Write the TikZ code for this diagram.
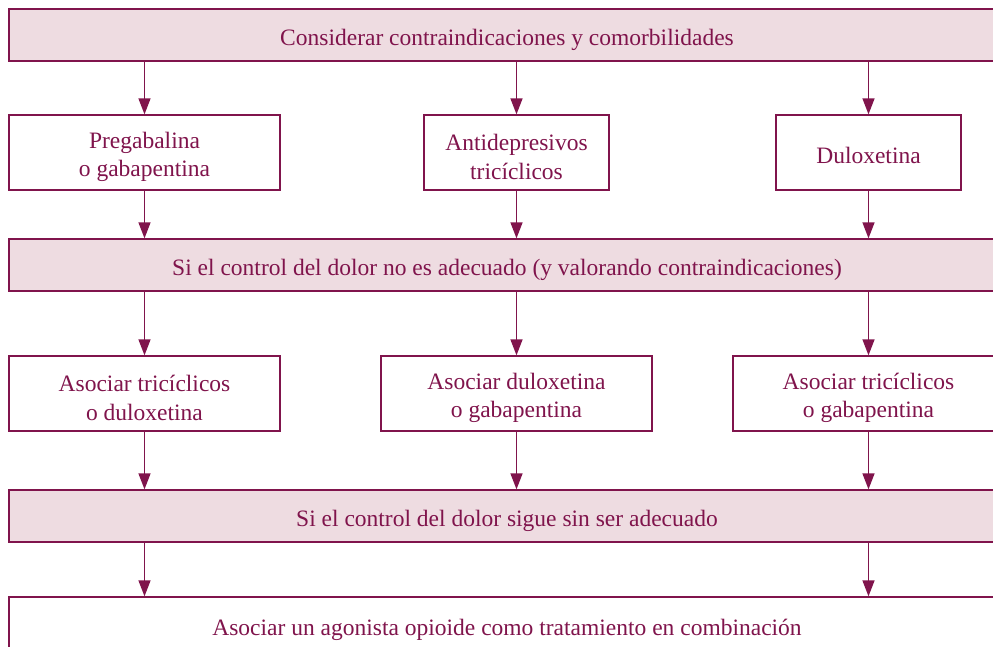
\documentclass[tikz,border=0pt]{standalone}
\usepackage{fontspec}
\setmainfont{Liberation Serif}
\usetikzlibrary{arrows.meta}
\definecolor{mar}{RGB}{128,20,76}
\definecolor{pink}{RGB}{238,220,225}
\tikzset{
  band/.style={draw=mar, line width=1.3pt, fill=pink, minimum width=996pt, minimum height=52pt, inner sep=0pt},
  box/.style={draw=mar, line width=1.3pt, fill=white, minimum height=75pt, inner sep=0pt},
  lbl/.style={text=mar, align=center, inner sep=0pt, font=\fontsize{23.5}{28.5}\selectfont},
  arr/.style={draw=mar, line width=1.4pt, -{Triangle[width=12pt,length=16pt]}}
}
\begin{document}
\begin{tikzpicture}[x=1pt,y=-1pt]
\useasboundingbox (0,0) rectangle (993,647);
\clip (0,0) rectangle (993,647);
\node[band] (c1) at (507,35) {};
\node[box, minimum width=271pt] (a1) at (144.5,152.5) {};
\node[box, minimum width=185pt] (a2) at (516.5,152.5) {};
\node[box, minimum width=185pt] (a3) at (868.5,152.5) {};
\node[band] (c2) at (507,265) {};
\node[box, minimum width=271pt] (b1) at (144.5,393.5) {};
\node[box, minimum width=271pt] (b2) at (516.5,393.5) {};
\node[box, minimum width=271pt] (b3) at (868.5,393.5) {};
\node[band] (c3) at (507,516) {};
\node[box, minimum width=996pt, minimum height=60pt] (d) at (507,627) {};
\node[lbl] (c1t) at ([yshift=-4.5pt]c1.center) {Considerar contraindicaciones y comorbilidades};
\node[lbl] (a1t) at ([yshift=-4.5pt]a1.center) {Pregabalina\\o gabapentina};
\node[lbl] (a2t) at ([yshift=-4.5pt]a2.center) {Antidepresivos\\tricíclicos};
\node[lbl] (a3t) at ([yshift=-3pt]a3.center) {Duloxetina};
\node[lbl] (c2t) at ([yshift=-5pt]c2.center) {Si el control del dolor no es adecuado (y valorando contraindicaciones)};
\node[lbl] (b1t) at ([yshift=-4.5pt]b1.center) {Asociar tricíclicos\\o duloxetina};
\node[lbl] (b2t) at ([yshift=-4.5pt]b2.center) {Asociar duloxetina\\o gabapentina};
\node[lbl] (b3t) at ([yshift=-4.5pt]b3.center) {Asociar tricíclicos\\o gabapentina};
\node[lbl] (c3t) at ([yshift=-5pt]c3.center) {Si el control del dolor sigue sin ser adecuado};
\node[lbl] (dt) at ([yshift=-3pt]d.center) {Asociar un agonista opioide como tratamiento en combinación};
\foreach \n in {a1,a2,a3}{
  \draw[arr] (\n.north |- c1.south) -- (\n.north);
  \draw[arr] (\n.south) -- (\n.south |- c2.north);
}
\foreach \n in {b1,b2,b3}{
  \draw[arr] (\n.north |- c2.south) -- (\n.north);
  \draw[arr] (\n.south) -- (\n.south |- c3.north);
}
\draw[arr] (b1.south |- c3.south) -- (b1.south |- d.north);
\draw[arr] (b3.south |- c3.south) -- (b3.south |- d.north);
\end{tikzpicture}
\end{document}
